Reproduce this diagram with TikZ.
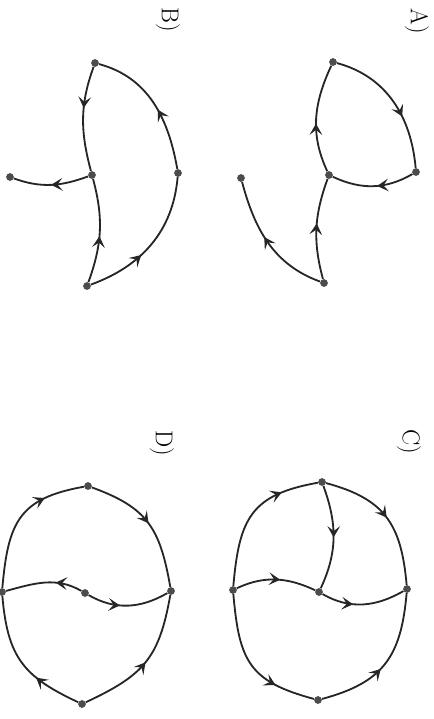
\documentclass[tikz,border=0pt]{standalone}
\usepackage{tikz}
\usetikzlibrary{arrows.meta, decorations.markings}

\begin{document}
\begin{tikzpicture}[
    x=0.025cm, y=0.025cm,
    vertex/.style={circle, fill=black!70, inner sep=0pt, minimum size=5.5pt},
    tag/.style={rotate=-90, font=\LARGE, inner sep=0pt},
    flow/.style={draw=black!85, line width=1.3pt, postaction={decorate, decoration={markings,
      mark=at position #1 with {\arrow{Stealth[length=8pt, width=9pt, inset=3.5pt]}}}}},
    flow/.default=0.5
]
  \useasboundingbox (0,0) rectangle (434,-719);

  % A)
  \node[tag] (labA) at (417,-21) {A)};
  \node[vertex] (A1) at (333,-62) {};
  \node[vertex] (A2) at (416,-172) {};
  \node[vertex] (A3) at (329,-175) {};
  \node[vertex] (A4) at (324,-283) {};
  \node[vertex] (A5) at (241,-178) {};
  \draw[flow=0.62] (A1) to[out=-15, in=95] (A2);
  \draw[flow=0.45] (A2) to[out=-150, in=-25] (A3);
  \draw[flow=0.45] (A3) to[out=115, in=-115] (A1);
  \draw[flow=0.55] (A4) to[out=105, in=-110] (A3);
  \draw[flow=0.55] (A4) to[out=160, in=-75] (A5);

  % B)
  \node[tag] (labB) at (168,-20) {B)};
  \node[vertex] (B1) at (95,-63) {};
  \node[vertex] (B2) at (178,-173) {};
  \node[vertex] (B3) at (92,-175) {};
  \node[vertex] (B4) at (87,-286) {};
  \node[vertex] (B5) at (10,-177) {};
  \draw[flow=0.4] (B1) to[out=-110, in=105] (B3);
  \draw[flow=0.45] (B2) to[out=100, in=-15] (B1);
  \draw[flow=0.5] (B3) to[out=-160, in=-20] (B5);
  \draw[flow=0.45] (B4) to[out=70, in=-75] (B3);
  \draw[flow=0.4] (B4) to[out=20, in=-95] (B2);

  % C)
  \node[tag] (labC) at (409,-442) {C)};
  \node[vertex] (C1) at (322,-482) {};
  \node[vertex] (C2) at (233,-590) {};
  \node[vertex] (C3) at (319,-592) {};
  \node[vertex] (C4) at (407,-589) {};
  \node[vertex] (C5) at (318,-700) {};
  \draw[flow=0.75] (C2) to[out=85, in=190, looseness=1.3] (C1);
  \draw[flow=0.5] (C1) to[out=-15, in=95, looseness=1.2] (C4);
  \draw[flow=0.5] (C1) to[out=-70, in=65] (C3);
  \draw[flow=0.55] (C2) to[out=25, in=155] (C3);
  \draw[flow=0.38] (C3) to[out=-30, in=-150] (C4);
  \draw[flow=0.72] (C2) to[out=-85, in=165, looseness=1.3] (C5);
  \draw[flow=0.45] (C5) to[out=15, in=-95, looseness=1.2] (C4);

  % D)
  \node[tag] (labD) at (162,-443) {D)};
  \node[vertex] (D1) at (88,-486) {};
  \node[vertex] (D2) at (2,-592) {};
  \node[vertex] (D3) at (85,-593) {};
  \node[vertex] (D4) at (171,-591) {};
  \node[vertex] (D5) at (82,-704) {};
  \draw[flow=0.72] (D2) to[out=85, in=190, looseness=1.3] (D1);
  \draw[flow=0.5] (D1) to[out=-20, in=100, looseness=1.2] (D4);
  \draw[flow=0.35] (D3) to[out=150, in=15] (D2);
  \draw[flow=0.4] (D3) to[out=-30, in=-150] (D4);
  \draw[flow=0.35] (D5) to[out=155, in=-85, looseness=1.2] (D2);
  \draw[flow=0.5] (D5) to[out=25, in=-100, looseness=1.2] (D4);
\end{tikzpicture}
\end{document}
